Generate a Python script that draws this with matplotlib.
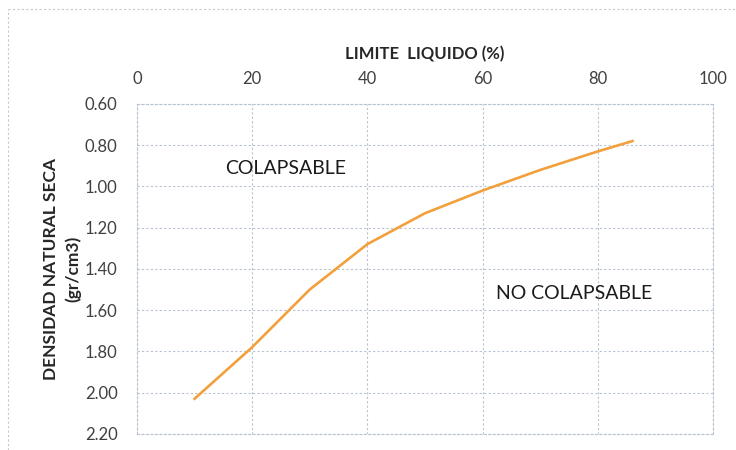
import matplotlib.pyplot as plt
import numpy as np

plt.rcParams['font.family'] = ['Lato', 'DejaVu Sans']

# limite liquido (%) vs densidad natural seca (gr/cm3)
limite_liquido = np.array([10, 20, 30, 40, 50, 60, 70, 80, 86])
densidad = np.array([2.03, 1.78, 1.50, 1.28, 1.13, 1.02, 0.92, 0.83, 0.78])

xticks = [0, 20, 40, 60, 80, 100]
yticks = [0.60, 0.80, 1.00, 1.20, 1.40, 1.60, 1.80, 2.00, 2.20]

fig = plt.figure(figsize=(7.36, 4.5), dpi=100)
ax = fig.add_axes([0.186, 0.036, 0.783, 0.733])

ax.plot(limite_liquido, densidad, color="#F2A03C", lw=1.9)

ax.set_xlim(0, 100)
ax.set_ylim(2.20, 0.60)
ax.set_xticks(xticks)
ax.set_yticks(yticks)
ax.set_yticklabels([f"{v:.2f}" for v in yticks])
ax.xaxis.tick_top()
ax.xaxis.set_label_position('top')
ax.tick_params(length=0, labelsize=12, labelcolor="#404040")
ax.tick_params(axis='y', pad=14)
ax.tick_params(axis='x', pad=12)

ax.grid(True, color="#b8c4d4", lw=0.8, ls=(0, (2, 2)))
for s in ax.spines.values():
    s.set_color("#b8c4d4")
    s.set_linestyle((0, (2, 2)))
    s.set_linewidth(0.8)

ax.set_xlabel("LIMITE  LIQUIDO (%)", fontsize=12, fontweight='bold', color="#262626", labelpad=9)
ax.set_ylabel("DENSIDAD NATURAL SECA\n(gr/cm3)", fontsize=12.5, fontweight='bold',
              color="#262626", labelpad=2.5, linespacing=1.45)

ax.text(15.3, 0.915, "COLAPSABLE", fontsize=14, color="#1a1a1a", va='center')
ax.text(62.3, 1.52, "NO COLAPSABLE", fontsize=14, color="#1a1a1a", va='center')

# marco exterior
fig.add_artist(plt.Line2D([0.011, 1.0], [0.981, 0.981], color="#c8c8c8", lw=0.8, ls=(0, (2, 2))))
fig.add_artist(plt.Line2D([0.011, 0.011], [0.0, 0.981], color="#c8c8c8", lw=0.8, ls=(0, (2, 2))))

fig.savefig("out.png", dpi=100)
